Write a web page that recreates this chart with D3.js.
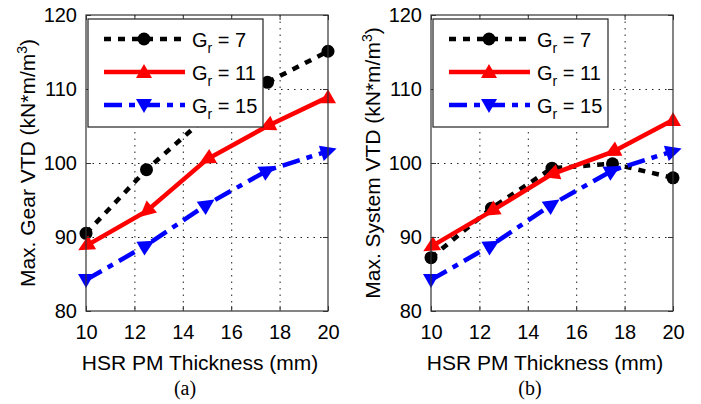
<!DOCTYPE html>
<html>
<head>
<meta charset="utf-8">
<script src="https://cdn.jsdelivr.net/npm/d3@7"></script>
<style>
  body { margin: 0; background: #fff; }
  svg { display: block; font-family: "Liberation Sans", Arial, sans-serif; }
</style>
</head>
<body>
<svg id="chart" width="701" height="404"></svg>
<script>
// data
const thickness = [10, 12.5, 15, 17.5, 20];
const gearGr7 = [90.5, 99.1, 106.3, 110.9, 115.1];
const gearGr11 = [88.8, 93.5, 100.5, 105.0, 108.9];
const gearGr15 = [84.2, 88.9, 94.4, 99.0, 101.6];
const sysGr7 = [87.2, 93.9, 99.3, 99.9, 98.0];
const sysGr11 = [88.7, 93.5, 98.5, 101.5, 105.8];
const sysGr15 = [84.2, 88.9, 94.4, 99.0, 101.6];
const gearRatios = ["7", "11", "15"];
const xTicks = [10, 12, 14, 16, 18, 20];
const yTicks = [80, 90, 100, 110, 120];
const xTitle = "HSR PM Thickness (mm)";
const yTitles = ["Max. Gear VTD (kN*m/m", "Max. System VTD (kN*m/m"];
const captions = ["(a)", "(b)"];

const styles = [
    { color: "#000", dash: "7,7", marker: "circle" },
    { color: "#ff0000", dash: null, marker: "up" },
    { color: "#0000ff", dash: "18,7,6,7", marker: "down" }
];

const panels = [
    { left: 86, series: [gearGr7, gearGr11, gearGr15] },
    { left: 431, series: [sysGr7, sysGr11, sysGr15] }
];

const svg = d3.select("#chart");
const plotTop = 15, plotBottom = 311, plotW = 242;
const plotH = plotBottom - plotTop;

const triUp = "M0,-8L8,6L-8,6Z";
const triDown = "M0,8L8,-6L-8,-6Z";
const arrow = "M9,0L-7,-8L-7,8Z";

panels.forEach((panel, pi) => {
    const g = svg.append("g")
        .attr("transform", `translate(${panel.left}, ${plotTop})`);

    const x = d3.scaleLinear().domain([10, 20]).range([0, plotW]);
    const y = d3.scaleLinear().domain([80, 120]).range([plotH, 0]);

    // dotted grid
    g.append("g")
        .attr("class", "grid")
        .call(d3.axisBottom(x).tickValues(xTicks.slice(1, -1)).tickSize(plotH).tickFormat(""))
        .call(s => s.select(".domain").remove());
    g.append("g")
        .attr("class", "grid")
        .call(d3.axisLeft(y).tickValues(yTicks.slice(1, -1)).tickSize(-plotW).tickFormat(""))
        .call(s => s.select(".domain").remove());
    g.selectAll(".grid line")
        .attr("stroke", "#222")
        .attr("stroke-width", 1)
        .attr("stroke-dasharray", "1.5,5");

    // series
    panel.series.forEach((vals, si) => {
        const st = styles[si];
        const pts = thickness.map((t, i) => [x(t), y(vals[i])]);
        g.append("path")
            .attr("d", d3.line()(pts))
            .attr("fill", "none")
            .attr("stroke", st.color)
            .attr("stroke-width", 4.5)
            .attr("stroke-dasharray", st.dash);

        pts.forEach((p, i) => {
            if (st.marker === "circle") {
                g.append("circle")
                    .attr("cx", p[0]).attr("cy", p[1]).attr("r", 6.5)
                    .attr("fill", st.color);
                return;
            }
            let shape, angle = 0;
            if (st.marker === "up") {
                if (i === pts.length - 1) {
                    shape = triUp;
                } else {
                    shape = arrow;
                    const q = pts[i + 1];
                    angle = Math.atan2(p[1] - q[1], p[0] - q[0]) * 180 / Math.PI;
                }
            } else {
                if (i === 0) {
                    shape = triDown;
                } else {
                    shape = arrow;
                    const q = pts[i - 1];
                    angle = Math.atan2(p[1] - q[1], p[0] - q[0]) * 180 / Math.PI;
                }
            }
            g.append("path")
                .attr("d", shape)
                .attr("transform", `translate(${p[0]}, ${p[1]}) rotate(${angle})`)
                .attr("fill", st.color);
        });
    });

    // box and inward ticks
    g.append("rect")
        .attr("width", plotW).attr("height", plotH)
        .attr("fill", "none").attr("stroke", "#333").attr("stroke-width", 1.2);

    const tickAxes = [
        g.append("g").attr("transform", `translate(0, ${plotH})`)
            .call(d3.axisBottom(x).tickValues(xTicks).tickSize(-5).tickPadding(14)),
        g.append("g")
            .call(d3.axisTop(x).tickValues(xTicks).tickSize(-5).tickFormat("")),
        g.append("g")
            .call(d3.axisLeft(y).tickValues(yTicks).tickSize(-5).tickPadding(9)),
        g.append("g").attr("transform", `translate(${plotW}, 0)`)
            .call(d3.axisRight(y).tickValues(yTicks).tickSize(-5).tickFormat(""))
    ];
    tickAxes.forEach(a => {
        a.select(".domain").remove();
        a.selectAll("line").attr("stroke", "#333");
        a.selectAll("text")
            .attr("fill", "#000")
            .style("font-size", "20px")
            .style("font-family", "'Liberation Sans', Arial, sans-serif");
    });

    // legend
    const leg = g.append("g").attr("transform", "translate(2, 4)");
    leg.append("rect")
        .attr("width", 175).attr("height", 108)
        .attr("fill", "#fff").attr("stroke", "#222").attr("stroke-width", 1.2);
    gearRatios.forEach((gr, si) => {
        const st = styles[si];
        const cy = 20 + si * 33;
        const row = leg.append("g").attr("transform", `translate(0, ${cy})`);
        row.append("line")
            .attr("x1", 16).attr("x2", 97)
            .attr("stroke", st.color)
            .attr("stroke-width", 4.5)
            .attr("stroke-dasharray", st.dash);
        if (st.marker === "circle") {
            row.append("circle").attr("cx", 56).attr("r", 6.5).attr("fill", st.color);
        } else {
            row.append("path")
                .attr("d", st.marker === "up" ? triUp : triDown)
                .attr("transform", "translate(56, 0)")
                .attr("fill", st.color);
        }
        const t = row.append("text")
            .attr("x", 104).attr("y", 7.5)
            .style("font-size", "20px");
        t.append("tspan").text("G");
        t.append("tspan").attr("dy", 6).style("font-size", "14px").text("r");
        t.append("tspan").attr("dy", -6).text(" = " + gr);
    });

    // titles
    g.append("text")
        .attr("x", plotW / 2 - 7)
        .attr("y", 355)
        .attr("text-anchor", "middle")
        .style("font-size", "21px")
        .text(xTitle);

    const yt = g.append("text")
        .attr("transform", `translate(${-51}, ${plotH / 2}) rotate(-90)`)
        .attr("text-anchor", "middle")
        .style("font-size", "21px");
    yt.append("tspan").text(yTitles[pi]);
    yt.append("tspan").attr("dy", -8).style("font-size", "14px").text("3");
    yt.append("tspan").attr("dy", 8).text(")");

    g.append("text")
        .attr("x", plotW / 2 - 22)
        .attr("y", 380)
        .attr("text-anchor", "middle")
        .style("font-family", "'Liberation Serif', 'Times New Roman', serif")
        .style("font-size", "20px")
        .text(captions[pi]);
});
</script>
</body>
</html>
